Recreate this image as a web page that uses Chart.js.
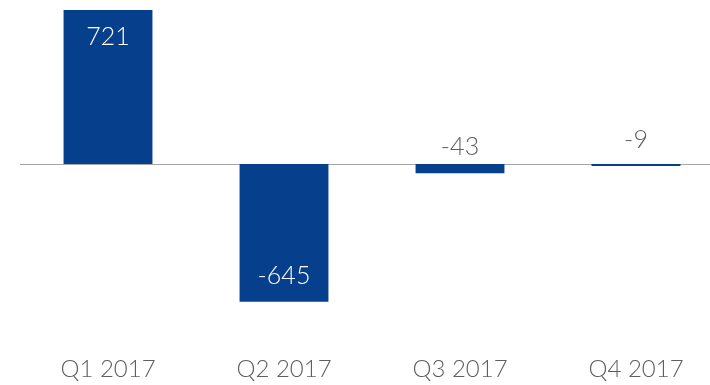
<!DOCTYPE html>
<html>
<head>
<meta charset="utf-8">
<script src="https://cdn.jsdelivr.net/npm/chart.js@4.4.1/dist/chart.umd.min.js"></script>
<style>
    html, body { margin: 0; padding: 0; background: #fff; overflow: hidden; }
    #contenedor { position: relative; width: 724px; height: 385px; }
</style>
</head>
<body>
<div id="contenedor"><canvas id="graficoTrimestres"></canvas></div>
<script>
const trimestres = ['Q1 2017', 'Q2 2017', 'Q3 2017', 'Q4 2017'];
const valores = [721, -645, -43, -9];
const ejeMin = -890;
const ejeMax = 721;

const azul = '#063f8c';
const gris = '#5f5f5f';
const fuente = "'Lato', 'Open Sans', sans-serif";

// linea del cero y etiquetas de valor sobre cada barra
const etiquetasBarras = {
    id: 'etiquetasBarras',
    beforeDatasetsDraw(chart) {
        const { ctx, chartArea, scales } = chart;
        const y0 = Math.round(scales.y.getPixelForValue(0)) + 0.5;
        ctx.save();
        ctx.strokeStyle = '#a6a6a6';
        ctx.lineWidth = 1;
        ctx.beginPath();
        ctx.moveTo(chartArea.left, y0);
        ctx.lineTo(chartArea.right, y0);
        ctx.stroke();
        ctx.restore();
    },
    afterDatasetsDraw(chart) {
        const { ctx, scales } = chart;
        const meta = chart.getDatasetMeta(0);
        const base = scales.y.getPixelForValue(0);
        ctx.save();
        ctx.font = '300 25px ' + fuente;
        ctx.textAlign = 'center';
        ctx.textBaseline = 'middle';
        meta.data.forEach((barra, i) => {
            const valor = valores[i];
            let y, color;
            if (valor >= 0) {
                y = barra.y + 27;
                color = y < base ? '#ffffff' : gris;
            } else {
                y = barra.y - 26;
                color = y > base ? '#ffffff' : gris;
            }
            ctx.fillStyle = color;
            ctx.fillText(String(valor), barra.x, y);
        });
        ctx.restore();
    }
};

document.addEventListener('DOMContentLoaded', function() {
    const ctx = document.getElementById('graficoTrimestres').getContext('2d');
    new Chart(ctx, {
        type: 'bar',
        data: {
            labels: trimestres,
            datasets: [{
                data: valores,
                backgroundColor: azul,
                borderWidth: 0,
                categoryPercentage: 1,
                barPercentage: 0.505
            }]
        },
        options: {
            responsive: true,
            maintainAspectRatio: false,
            animation: false,
            layout: { padding: { left: 20, top: 10, right: 0, bottom: 0 } },
            plugins: {
                legend: { display: false },
                tooltip: { enabled: false }
            },
            scales: {
                x: {
                    grid: { display: false, drawTicks: false },
                    border: { display: false },
                    ticks: {
                        padding: 1,
                        color: gris,
                        font: { family: fuente, size: 24, weight: '300', lineHeight: 1.2 }
                    }
                },
                y: {
                    display: false,
                    min: ejeMin,
                    max: ejeMax
                }
            }
        },
        plugins: [etiquetasBarras]
    });
});
</script>
</body>
</html>
